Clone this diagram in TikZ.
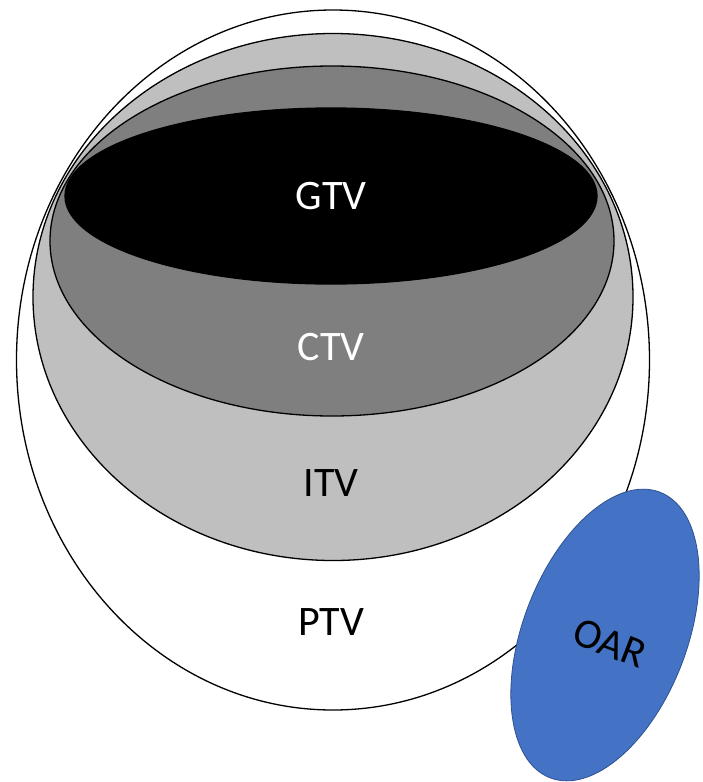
\documentclass[tikz,border=0pt]{standalone}
\usepackage{fontspec}
\setmainfont{Carlito}
\usetikzlibrary{shapes.geometric}
\definecolor{itvgray}{HTML}{BFBFBF}
\definecolor{ctvgray}{HTML}{7F7F7F}
\definecolor{oarblue}{HTML}{4472C4}
\definecolor{oarline}{HTML}{2F528F}
\tikzset{
  volume/.style={ellipse, draw=black, line width=1.3pt, inner sep=0pt, outer sep=0pt},
  vlabel/.style={font=\fontsize{42}{50}\selectfont, inner sep=0pt}
}
\begin{document}
\begin{tikzpicture}[x=1pt,y=-1pt]
\useasboundingbox (0,0) rectangle (702,782);
% nested target volumes, outermost first
\node[volume, fill=white, minimum width=633pt, minimum height=700pt] (ptv) at (333,360) {};
\node[volume, fill=itvgray, minimum width=600pt, minimum height=527pt] (itv) at (333,297) {};
\node[volume, fill=ctvgray, minimum width=564pt, minimum height=350pt] (ctv) at (332,241) {};
\node[volume, fill=black, minimum width=532pt, minimum height=176pt] (gtv) at (331,196) {};
% organ at risk overlapping the planning volume
\node[ellipse, fill=oarblue, draw=oarline, line width=0.8pt, inner sep=0pt,
      minimum width=164pt, minimum height=306pt, rotate=-21] (oar) at (605,635) {};
% labels
\node[vlabel, text=white] (gtvt) at (331,196) {GTV};
\node[vlabel, text=white] (ctvt) at (331,347) {CTV};
\node[vlabel] (itvt) at (331,483) {ITV};
\node[vlabel] (ptvt) at (331,622) {PTV};
\node[vlabel, rotate=-21] (oart) at (610,643) {OAR};
\end{tikzpicture}
\end{document}
